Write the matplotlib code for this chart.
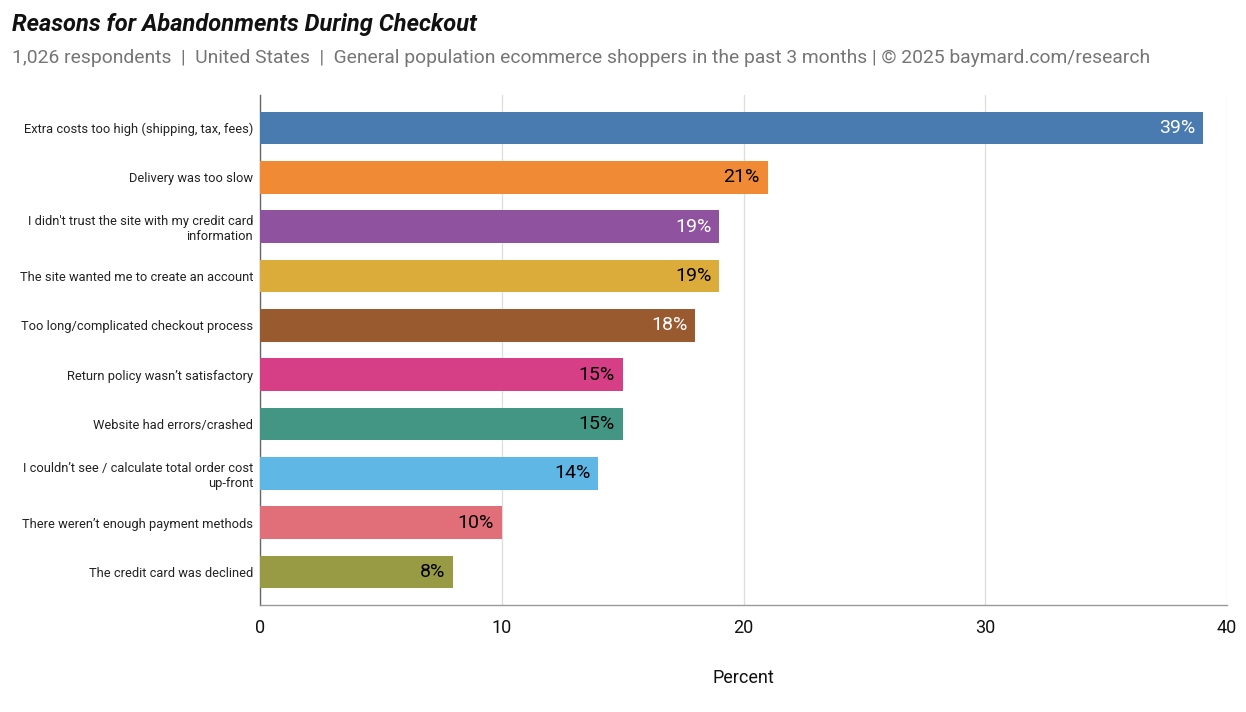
import matplotlib
matplotlib.use("Agg")
import matplotlib.pyplot as plt

categories = [
    "Extra costs too high (shipping, tax, fees)",
    "Delivery was too slow",
    "I didn't trust the site with my credit card\ninformation",
    "The site wanted me to create an account",
    "Too long/complicated checkout process",
    "Return policy wasn\u2019t satisfactory",
    "Website had errors/crashed",
    "I couldn\u2019t see / calculate total order cost\nup-front",
    "There weren\u2019t enough payment methods",
    "The credit card was declined",
]
values = [39, 21, 19, 19, 18, 15, 15, 14, 10, 8]
colors = ["#4A7BB0", "#F08A35", "#8E529E", "#DCAC3A", "#9A5A30",
          "#D63F85", "#449684", "#5FB7E6", "#E06F7A", "#989A44"]
label_colors = ["white", "black", "white", "black", "white",
                "black", "black", "black", "black", "black"]
xticks = [0, 10, 20, 30, 40]

plt.rcParams['font.family'] = ['Roboto', 'DejaVu Sans']

fig = plt.figure(figsize=(12.46, 7.12), dpi=100)
ax = fig.add_axes([0.2087, 0.1503, 0.9848 - 0.2087, 0.8666 - 0.1503])

ypos = list(range(len(categories)))
ax.barh(ypos, values, height=0.66, color=colors, zorder=3)
for y, v, lc in zip(ypos, values, label_colors):
    ax.text(v - 0.33, y, f"{v}%", ha="right", va="center", fontsize=14,
            color=lc, zorder=4)

ax.set_xlim(0, 40)
ax.set_ylim(9.67, -0.67)
ax.set_yticks(ypos)
ax.set_yticklabels(categories, fontsize=9.3, color="#222222")
ax.set_xticks(xticks)
ax.set_xticklabels([str(t) for t in xticks], fontsize=13, color="#111111")
ax.tick_params(axis="y", length=0, pad=5)
ax.tick_params(axis="x", length=0, pad=10)
ax.grid(axis="x", color="#DDDDDD", linewidth=0.9, zorder=0)
for s in ["top", "right"]:
    ax.spines[s].set_visible(False)
ax.spines["left"].set_color("#666666")
ax.spines["left"].set_linewidth(1.0)
ax.spines["bottom"].set_color("#999999")
ax.spines["bottom"].set_linewidth(1.0)
ax.set_xlabel("Percent", fontsize=13, color="#111111", labelpad=23)

fig.text(12 / 1246, 1 - 24 / 712, "Reasons for Abandonments During Checkout",
         fontsize=17, fontweight="bold", fontstyle="italic", color="#111111",
         ha="left", va="center")
fig.text(12 / 1246, 1 - 58 / 712,
         "1,026 respondents  |  United States  |  General population ecommerce shoppers in the past 3 months | \u00a9 2025 baymard.com/research",
         fontsize=13.85, color="#757575", ha="left", va="center")

fig.savefig("out.png", dpi=100)
